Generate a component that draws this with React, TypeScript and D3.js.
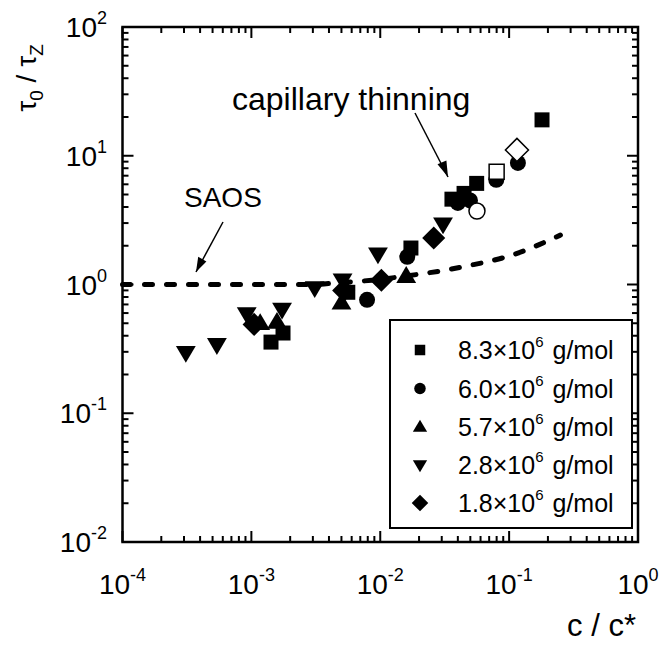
import React from "react";
import * as d3 from "d3";

const xTickExps = [-4, -3, -2, -1, 0];
const yTickExps = [-2, -1, 0, 1, 2];

// series: [c/c*, tau0/tauZ]
const s83Filled: [number, number][] = [
  [1.42e-3, 0.357], [1.76e-3, 0.42], [5.6e-3, 0.87], [0.0173, 1.92],
  [0.036, 4.6], [0.0447, 5.1], [0.056, 6.1], [0.18, 19],
];
const s83Open: [number, number][] = [[0.08, 7.5]];
const s60Filled: [number, number][] = [
  [7.9e-3, 0.76], [0.0162, 1.64], [0.04, 4.3], [0.0497, 4.5], [0.0795, 6.5], [0.117, 8.8],
];
const s60Open: [number, number][] = [[0.0563, 3.72]];
const s57Filled: [number, number][] = [
  [1.17e-3, 0.5], [1.58e-3, 0.51], [5.0e-3, 0.72], [0.0159, 1.16],
];
const s28Filled: [number, number][] = [
  [3.1e-4, 0.295], [5.4e-4, 0.34], [9.2e-4, 0.59], [1.73e-3, 0.64],
  [3.1e-3, 0.94], [5.1e-3, 1.08], [9.6e-3, 1.72], [0.0307, 2.94],
];
const s18Filled: [number, number][] = [
  [1.05e-3, 0.49], [5.2e-3, 0.9], [0.0102, 1.08], [0.026, 2.3],
];
const s18Open: [number, number][] = [[0.115, 11.1]];

const saosCurve: [number, number][] = [
  [1e-4, 1], [1e-3, 1], [3e-3, 1.0], [4.6e-3, 1.03], [8.6e-3, 1.08], [0.0197, 1.2],
  [0.033, 1.3], [0.048, 1.4], [0.071, 1.52], [0.107, 1.7], [0.159, 1.98], [0.25, 2.42],
];

const legendLabels = ["8.3", "6.0", "5.7", "2.8", "1.8"];
const legendShapes = ["square", "circle", "up", "down", "diamond"];

const W = 667, H = 652;
const L = 122.5, R = 638, T = 27, B = 542;
const FONT = "'Liberation Sans', Arial, sans-serif";

function markerPath(shape: string, s: number): string {
  const h = s / 2;
  switch (shape) {
    case "square":
      return `M${-h},${-h}H${h}V${h}H${-h}Z`;
    case "circle":
      return `M${h},0A${h},${h} 0 1,1 ${-h},0A${h},${h} 0 1,1 ${h},0Z`;
    case "up": {
      const w = s * 0.62, ht = s * 1.05;
      return `M0,${-ht * 0.6}L${w},${ht * 0.4}L${-w},${ht * 0.4}Z`;
    }
    case "down": {
      const w = s * 0.62, ht = s * 1.05;
      return `M0,${ht * 0.6}L${w},${-ht * 0.4}L${-w},${-ht * 0.4}Z`;
    }
    case "diamond": {
      const d = s * 0.72;
      return `M0,${-d}L${d},0L0,${d}L${-d},0Z`;
    }
  }
  return "";
}

export default function App() {
  const x = d3.scaleLog().domain([1e-4, 1]).range([L, R]);
  const y = d3.scaleLog().domain([1e-2, 1e2]).range([B, T]);

  const minorX: number[] = [];
  xTickExps.slice(0, -1).forEach((e) => {
    for (let k = 2; k <= 9; k++) minorX.push(k * Math.pow(10, e));
  });
  const minorY: number[] = [];
  yTickExps.slice(0, -1).forEach((e) => {
    for (let k = 2; k <= 9; k++) minorY.push(k * Math.pow(10, e));
  });

  const line = d3
    .line<[number, number]>()
    .x((d) => x(d[0]))
    .y((d) => y(d[1]))
    .curve(d3.curveMonotoneX);

  const MAJ = 11, MIN = 6;
  const tickStroke = 2;

  const renderSeries = (data: [number, number][], shape: string, open: boolean, key: string) =>
    data.map((d, i) => (
      <path
        key={key + i}
        d={markerPath(shape, shape === "circle" ? 16 : shape === "square" ? 15 : 16)}
        transform={`translate(${x(d[0])},${y(d[1])})`}
        fill={open ? "#fff" : "#000"}
        stroke="#000"
        strokeWidth={open ? 1.5 : 0}
      />
    ));

  const legendRowsY = [350, 388.5, 427, 465, 503];

  return (
    <svg
      width={W}
      height={H}
      style={{ position: "absolute", left: 0, top: 0, background: "#fff" }}
      fontFamily={FONT}
    >
      <rect x={0} y={0} width={W} height={H} fill="#fff" />

      {/* ticks */}
      <g stroke="#000" strokeWidth={tickStroke}>
        {xTickExps.map((e) => {
          const px = x(Math.pow(10, e));
          return (
            <g key={"xt" + e}>
              <line x1={px} x2={px} y1={B} y2={B - MAJ} />
              <line x1={px} x2={px} y1={T} y2={T + MAJ} />
            </g>
          );
        })}
        {minorX.map((v, i) => {
          const px = x(v);
          return (
            <g key={"xm" + i}>
              <line x1={px} x2={px} y1={B} y2={B - MIN} />
              <line x1={px} x2={px} y1={T} y2={T + MIN} />
            </g>
          );
        })}
        {yTickExps.map((e) => {
          const py = y(Math.pow(10, e));
          return (
            <g key={"yt" + e}>
              <line x1={L} x2={L + MAJ} y1={py} y2={py} />
              <line x1={R} x2={R - MAJ} y1={py} y2={py} />
            </g>
          );
        })}
        {minorY.map((v, i) => {
          const py = y(v);
          return (
            <g key={"ym" + i}>
              <line x1={L} x2={L + MIN} y1={py} y2={py} />
              <line x1={R} x2={R - MIN} y1={py} y2={py} />
            </g>
          );
        })}
      </g>

      {/* dashed SAOS curve */}
      <path
        d={line(saosCurve) || ""}
        fill="none"
        stroke="#000"
        strokeWidth={5}
        strokeDasharray="8 14"
        strokeLinecap="round"
      />

      {/* markers */}
      {renderSeries(s28Filled, "down", false, "d")}
      {renderSeries(s57Filled, "up", false, "u")}
      {renderSeries(s18Filled, "diamond", false, "m")}
      {renderSeries(s60Filled, "circle", false, "c")}
      {renderSeries(s83Filled, "square", false, "s")}
      {renderSeries(s83Open, "square", true, "so")}
      {renderSeries(s18Open, "diamond", true, "mo")}
      {renderSeries(s60Open, "circle", true, "co")}

      {/* frame */}
      <rect x={L} y={T} width={R - L} height={B - T} fill="none" stroke="#000" strokeWidth={2.5} />

      {/* tick labels */}
      <g fontSize={28} fill="#000">
        {xTickExps.map((e) => (
          <text key={"xl" + e} x={x(Math.pow(10, e))} y={594} textAnchor="middle">
            10<tspan dy={-13} fontSize={18}>{e}</tspan>
          </text>
        ))}
        {yTickExps.map((e) => (
          <text key={"yl" + e} x={107} y={y(Math.pow(10, e)) + 10} textAnchor="end">
            10<tspan dy={-13} fontSize={18}>{e}</tspan>
          </text>
        ))}
      </g>

      {/* axis titles */}
      <text x={636} y={636} textAnchor="end" fontSize={31}>
        c / c*
      </text>
      <text transform="translate(36,78) rotate(-90)" textAnchor="middle" fontSize={28}>
        τ<tspan dy={7} fontSize={19}>0</tspan>
        <tspan dy={-7}> / τ</tspan>
        <tspan dy={7} fontSize={19}>Z</tspan>
      </text>

      {/* annotations */}
      <text x={232} y={110} fontSize={32}>capillary thinning</text>
      <text x={184} y={207} fontSize={28}>SAOS</text>
      <line x1={415} y1={113} x2={448} y2={177} stroke="#000" strokeWidth={1.5} />
      <path d="M448,177 L437.5,164.2 L446.4,160.6 Z" fill="#000" />
      <line x1={223} y1={222} x2={196} y2={272} stroke="#000" strokeWidth={1.5} />
      <path d="M196,272 L198.2,256.8 L206.4,261.4 Z" fill="#000" />

      {/* legend */}
      <rect x={390} y={320} width={242} height={208} fill="#fff" stroke="#000" strokeWidth={2} />
      {legendLabels.map((lab, i) => (
        <g key={"lg" + i}>
          <path
            d={markerPath(legendShapes[i], legendShapes[i] === "square" ? 10.5 : 11.5)}
            transform={`translate(420,${legendRowsY[i]})`}
            fill="#000"
          />
          <text x={458} y={legendRowsY[i] + 9} fontSize={25}>
            {lab}×10<tspan dy={-12} fontSize={15}>6</tspan>
            <tspan dy={12} dx={2}>{" g/mol"}</tspan>
          </text>
        </g>
      ))}
    </svg>
  );
}
